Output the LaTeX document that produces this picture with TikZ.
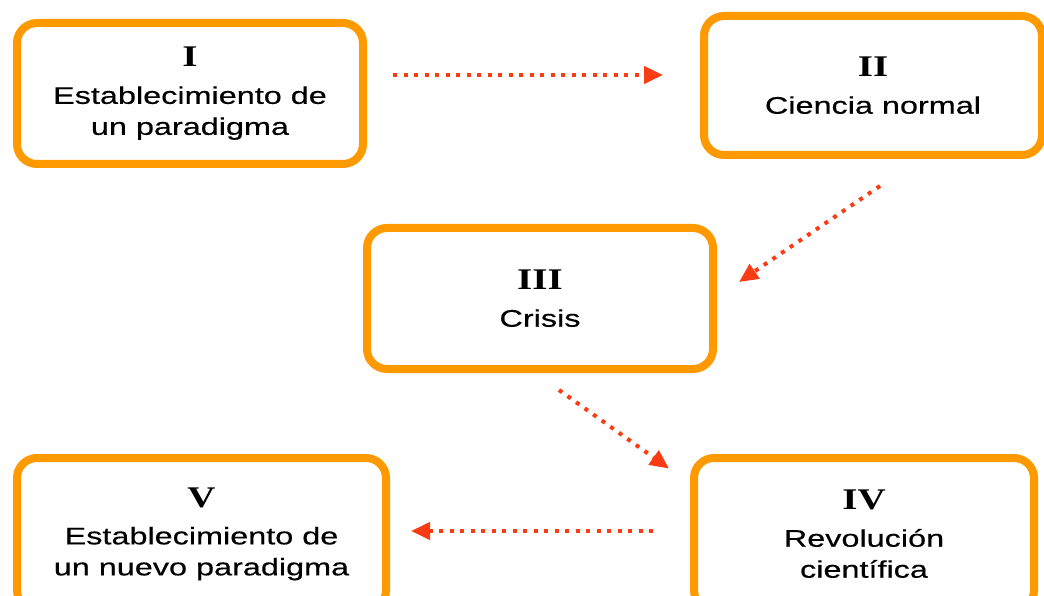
\documentclass[tikz,border=0pt]{standalone}
\usepackage{fontspec}
\usepackage{xcolor}
\usetikzlibrary{arrows.meta,positioning,calc}
\newfontfamily\labelfont[FakeStretch=1.35,FakeBold=0.4]{Liberation Sans}
\newfontfamily\numfont[FakeStretch=1.3]{Liberation Serif}
\definecolor{BoxOr}{RGB}{255,153,0}
\definecolor{ArrRed}{RGB}{250,60,20}
\newcommand{\stagenum}[1]{{\numfont\bfseries\fontsize{30}{30}\selectfont #1}}
\tikzset{
  stage/.style={rectangle,rounded corners=20pt,draw=BoxOr,line width=8pt,fill=white,
                align=center,inner sep=0pt,text=black,
                font=\labelfont\fontsize{24}{31}\selectfont},
  flow/.style={-{Triangle[length=19pt,width=17pt]},ArrRed,line width=4pt,
               dash pattern=on 4pt off 6.5pt},
}

\begin{document}
\begin{tikzpicture}[x=1pt,y=-1pt]
  \useasboundingbox (0,0) rectangle (1044,596);
  \clip (0,0) rectangle (1044,596);
  % the five stages
  \node[stage,minimum width=346pt,minimum height=141pt] (s1) at (190,93.5)
    {\stagenum{I}\\[6pt]Establecimiento de\\un paradigma};
  \node[stage,minimum width=338pt,minimum height=139pt] (s2) at (873,85.5)
    {\stagenum{II}\\[6pt]Ciencia normal};
  \node[stage,minimum width=346pt,minimum height=141pt] (s3) at (540,298.5)
    {\stagenum{III}\\[6pt]Crisis};
  \node[stage,minimum width=340pt,minimum height=152pt] (s4) at (864,534)
    {\stagenum{IV}\\[6pt]Revoluci\'on\\cient\'ifica};
  \node[stage,minimum width=369pt,minimum height=152pt] (s5) at (201.5,534)
    {\stagenum{V}\\[6pt]Establecimiento de\\un nuevo paradigma};
  % transitions
  \draw[flow,shorten <=26pt,shorten >=37pt] ([yshift=18.5pt]s1.east) -- ([yshift=10.5pt]s2.west);
  \draw[flow] ([xshift=7pt,yshift=-27pt]s2.south) -- ([xshift=22pt,yshift=16.5pt]s3.east);
  \draw[flow] ([xshift=19pt,yshift=-17pt]s3.south) -- ([xshift=-21pt,yshift=-14.5pt]s4.north west);
  \draw[flow,shorten <=37pt,shorten >=21pt] ([yshift=3pt]s4.west) -- ([yshift=3pt]s5.east);
\end{tikzpicture}
\end{document}
